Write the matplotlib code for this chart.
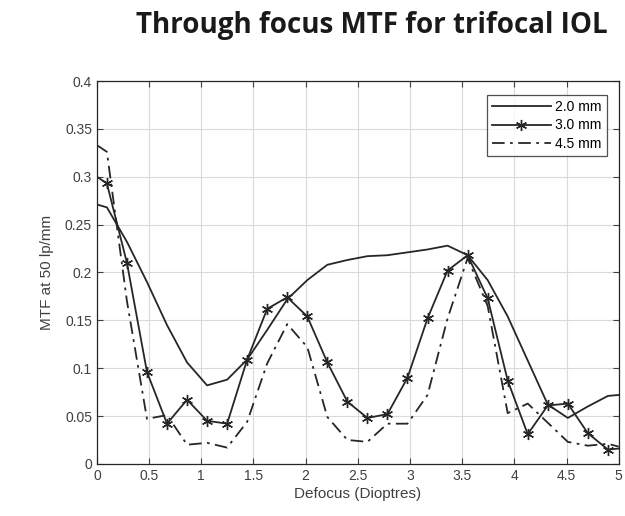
import matplotlib.pyplot as plt

# Defocus positions (Dioptres) shared by all three pupil sizes
defocus = [0.0, 0.096, 0.288, 0.48, 0.672, 0.864, 1.056, 1.248, 1.44, 1.632,
           1.824, 2.016, 2.208, 2.4, 2.592, 2.784, 2.976, 3.168, 3.36, 3.552,
           3.744, 3.936, 4.128, 4.32, 4.512, 4.704, 4.896, 5.0]

# MTF at 50 lp/mm
mtf_2mm = [0.271, 0.268, 0.232, 0.190, 0.145, 0.106, 0.082, 0.088, 0.109, 0.140,
           0.172, 0.192, 0.208, 0.213, 0.217, 0.218, 0.221, 0.224, 0.228, 0.218,
           0.192, 0.154, 0.108, 0.062, 0.048, 0.060, 0.071, 0.072]
mtf_3mm = [0.300, 0.293, 0.210, 0.096, 0.042, 0.067, 0.045, 0.042, 0.109, 0.162,
           0.174, 0.154, 0.106, 0.065, 0.048, 0.052, 0.090, 0.152, 0.202, 0.218,
           0.173, 0.087, 0.031, 0.061, 0.063, 0.032, 0.015, 0.016]
mtf_45mm = [0.333, 0.326, 0.170, 0.047, 0.051, 0.020, 0.022, 0.017, 0.044, 0.105,
            0.146, 0.122, 0.049, 0.025, 0.023, 0.042, 0.042, 0.072, 0.152, 0.215,
            0.165, 0.053, 0.063, 0.043, 0.023, 0.019, 0.021, 0.018]

labels = ["2.0 mm", "3.0 mm", "4.5 mm"]
xticks = [0, 0.5, 1, 1.5, 2, 2.5, 3, 3.5, 4, 4.5, 5]
yticks = [0, 0.05, 0.1, 0.15, 0.2, 0.25, 0.3, 0.35, 0.4]

plt.rcParams['font.family'] = ['Liberation Sans', 'DejaVu Sans']

fig = plt.figure(figsize=(6.25, 5.16), dpi=100)
ax = fig.add_axes([0.155, 0.101, 0.835, 0.742])

ink = '#262626'
ax.plot(defocus, mtf_2mm, '-', color=ink, lw=1.3, label=labels[0])
ax.plot(defocus, mtf_3mm, '-', color=ink, lw=1.3, marker=(6, 2, 0), ms=8,
        markevery=list(range(1, len(defocus) - 1)), label=labels[1])
ax.plot(defocus, mtf_45mm, color=ink, lw=1.3, ls=(0, (7, 3, 1.5, 3)),
        label=labels[2])

ax.set_xlim(0, 5)
ax.set_ylim(0, 0.4)
ax.set_xticks(xticks)
ax.set_yticks(yticks)
ax.set_xticklabels([f"{t:g}" for t in xticks])
ax.set_yticklabels([f"{t:g}" for t in yticks])
ax.grid(True, color='#d9d9d9', lw=0.8)
ax.set_axisbelow(True)
ax.tick_params(direction='in', top=True, right=True, length=4, width=0.8,
               labelsize=10, colors='#404040')
for s in ax.spines.values():
    s.set_color(ink)
    s.set_linewidth(0.9)

ax.set_xlabel("Defocus (Dioptres)", fontsize=11, color='#404040', labelpad=3)
ax.set_ylabel("MTF at 50 lp/mm", fontsize=11, color='#404040', labelpad=8)

leg = ax.legend(loc='upper right', bbox_to_anchor=(0.985, 0.975), fontsize=10,
                handlelength=4.2, fancybox=False, edgecolor=ink,
                borderaxespad=0.3, labelspacing=0.3, handletextpad=0.3)
leg.get_frame().set_linewidth(0.9)

fig.text(0.973, 0.95, "Through focus MTF for trifocal IOL", ha='right',
         va='center', fontsize=20, fontweight='bold',
         family=['Open Sans', 'DejaVu Sans'], color='#1a1a1a')

fig.savefig("out.png", dpi=100)
